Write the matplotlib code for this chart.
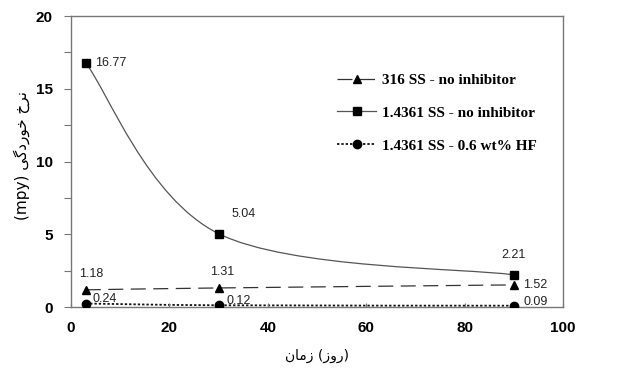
import matplotlib
matplotlib.use("Agg")
import matplotlib.pyplot as plt
from matplotlib.path import Path
from matplotlib.patches import PathPatch
from matplotlib.lines import Line2D
from matplotlib.ticker import MultipleLocator

# زمان (روز) - days
days = [3, 30, 90]
ss316 = [1.18, 1.31, 1.52]
ss14361 = [16.77, 5.04, 2.21]
ss14361_hf = [0.24, 0.12, 0.09]

labels = ["316 SS - no inhibitor", "1.4361 SS - no inhibitor", "1.4361 SS - 0.6 wt% HF"]

# Persian text, shaped by hand (presentation forms, visual order)
ylabel_txt = "(mpy) \uFBFD\uFB94\uFEA9\uFEAD\uFEEE\uFEA7 \uFEA5\uFEAE\uFEE7"
xlabel_txt = "\uFEE5\uFE8E\uFEE3\uFEAF (\uFEAF\uFEED\uFEAD)"


def smooth_path(xs, ys):
    # excel-like smoothed line: cubic bezier, catmull-rom tangents
    pts = list(zip(xs, ys))
    verts = [pts[0]]
    codes = [Path.MOVETO]
    n = len(pts)
    for i in range(n - 1):
        p0 = pts[i - 1] if i > 0 else pts[i]
        p1 = pts[i]
        p2 = pts[i + 1]
        p3 = pts[i + 2] if i + 2 < n else pts[i + 1]
        c1 = (p1[0] + (p2[0] - p0[0]) / 6, p1[1] + (p2[1] - p0[1]) / 6)
        c2 = (p2[0] - (p3[0] - p1[0]) / 6, p2[1] - (p3[1] - p1[1]) / 6)
        verts += [c1, c2, p2]
        codes += [Path.CURVE4] * 3
    return Path(verts, codes)


fig = plt.figure(figsize=(6.17, 3.69), dpi=100)
ax = fig.add_axes([0.1151, 0.168, 0.7974, 0.7886])

styles = [
    (ss316, "^", (0, (12, 6)), "#333333", 0.9),
    (ss14361, "s", "-", "#555555", 0.9),
    (ss14361_hf, "o", (0, (1.3, 1.1)), "#111111", 1.3),
]

handles = []
for (vals, mk, ls, col, lw), lab in zip(styles, labels):
    patch = PathPatch(smooth_path(days, vals), facecolor="none",
                      edgecolor=col, linestyle=ls, linewidth=lw)
    ax.add_patch(patch)
    ax.plot(days, vals, linestyle="none", marker=mk, color="black",
            markersize=6, zorder=5)
    handles.append(Line2D([], [], color=col, linestyle=ls, linewidth=lw,
                          marker=mk, markersize=6, markerfacecolor="black",
                          markeredgecolor="black"))

# data labels
lab_kw = dict(fontsize=9, color="#222222", family="Liberation Sans",
              textcoords="offset points")
ax.annotate("16.77", (days[0], ss14361[0]), xytext=(7, 0), ha="left", va="center", **lab_kw)
ax.annotate("5.04", (days[1], ss14361[1]), xytext=(9, 10), ha="left", va="bottom", **lab_kw)
ax.annotate("2.21", (days[2], ss14361[2]), xytext=(0, 10), ha="center", va="bottom", **lab_kw)
ax.annotate("1.18", (days[0], ss316[0]), xytext=(-5, 7), ha="left", va="bottom", **lab_kw)
ax.annotate("1.31", (days[1], ss316[1]), xytext=(-6, 7), ha="left", va="bottom", **lab_kw)
ax.annotate("1.52", (days[2], ss316[2]), xytext=(7, 0), ha="left", va="center", **lab_kw)
ax.annotate("0.24", (days[0], ss14361_hf[0]), xytext=(5, -1), ha="left", va="bottom", **lab_kw)
ax.annotate("0.12", (days[1], ss14361_hf[1]), xytext=(6, -1), ha="left", va="bottom", **lab_kw)
ax.annotate("0.09", (days[2], ss14361_hf[2]), xytext=(7, 3), ha="left", va="center", **lab_kw)

ax.set_xlim(0, 100)
ax.set_ylim(0, 20)
ax.xaxis.set_major_locator(MultipleLocator(20))
ax.yaxis.set_major_locator(MultipleLocator(5))
ax.yaxis.set_minor_locator(MultipleLocator(2.5))

for s in ax.spines.values():
    s.set_color("#777777")
    s.set_linewidth(1.0)

ax.tick_params(axis="x", direction="in", length=3, width=0.8, color="#777777",
               pad=10, labelsize=11)
ax.tick_params(axis="y", which="both", direction="out", length=5, width=0.8,
               color="#777777", pad=8, labelsize=11)
for t in ax.get_xticklabels() + ax.get_yticklabels():
    t.set_fontweight("bold")
    t.set_family("Liberation Sans")

ax.set_ylabel(ylabel_txt, fontsize=11, family=["DejaVu Sans"])
ax.yaxis.set_label_coords(-0.083, 0.52)
ax.set_xlabel(xlabel_txt, fontsize=10, family=["DejaVu Sans"], labelpad=10)

leg = ax.legend(handles, labels, loc="upper left", bbox_to_anchor=(0.54, 0.803),
                frameon=False, borderaxespad=0, borderpad=0, handlelength=2.6,
                handletextpad=0.35, labelspacing=1.25,
                prop=dict(family="Liberation Serif", weight="bold", size=11))

fig.savefig("out.png", dpi=100)
